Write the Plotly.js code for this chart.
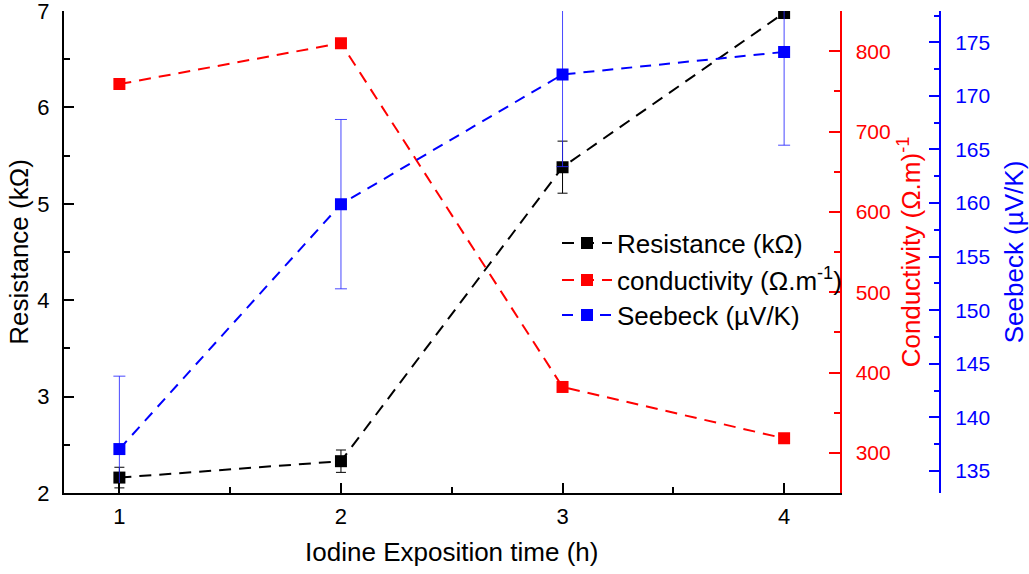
<!DOCTYPE html>
<html>
<head>
<meta charset="utf-8">
<script src="https://cdn.plot.ly/plotly-3.0.1.min.js"></script>
<style>html,body{margin:0;padding:0;background:#fff;}#chart{width:1029px;height:574px;}</style>
</head>
<body>
<div id="chart"></div>
<script>
// Data
const exposureHours = [1, 2, 3, 4];
const resistance = [2.16, 2.33, 5.38, 6.98];           // kΩ
const resistanceErr = [0.107, 0.116, 0.27, 0.05];
const conductivity = [759, 810, 382, 318];              // (Ω.m)^-1
const seebeck = [137.05, 159.9, 172.0, 174.1];          // µV/K
const seebeckErr = [6.8, 7.9, 8.6, 8.7];

const FONT = 'Arial, "Liberation Sans", sans-serif';

const traces = [
  {
    x: exposureHours, y: resistance, name: 'Resistance (kΩ)',
    type: 'scatter', mode: 'lines+markers', xaxis: 'x', yaxis: 'y', legend: 'legend',
    line: {color: '#000000', width: 2, dash: '12px,8px'},
    marker: {symbol: 'square', size: 12, color: '#000000'},
    error_y: {type: 'data', array: resistanceErr, visible: true, color: '#000000', thickness: 1, width: 5}
  },
  {
    x: exposureHours, y: conductivity, name: 'conductivity (Ω.m<sup>-1</sup>)',
    type: 'scatter', mode: 'lines+markers', xaxis: 'x', yaxis: 'y2', legend: 'legend2',
    line: {color: '#ff0000', width: 2, dash: '12px,8px'},
    marker: {symbol: 'square', size: 12, color: '#ff0000'}
  },
  {
    x: exposureHours, y: seebeck, name: 'Seebeck (µV/K)',
    type: 'scatter', mode: 'lines+markers', xaxis: 'x', yaxis: 'y3', legend: 'legend3',
    line: {color: '#0000ff', width: 2, dash: '11px,8px'},
    marker: {symbol: 'square', size: 12, color: '#0000ff'},
    error_y: {type: 'data', array: seebeckErr, visible: true, color: 'rgba(40,40,255,0.85)', thickness: 1, width: 6}
  }
];

const PW = 1029 - 64 - 60;
const xEnd = (839.5 - 64) / PW;
const blueX = (940 - 64) / PW;
function py(pix) { return 1 - (pix - 11) / 482; }
function legendAt(yc) {
  return {x: (557 - 64) / PW, y: py(yc), xanchor: 'left', yanchor: 'middle',
          bgcolor: 'rgba(0,0,0,0)', borderwidth: 0, itemwidth: 50,
          font: {family: FONT, size: 26, color: '#000'}};
}

const layout = {
  width: 1029, height: 574,
  margin: {l: 64, r: 60, t: 11, b: 81},
  paper_bgcolor: '#ffffff', plot_bgcolor: '#ffffff',
  font: {family: FONT, size: 21, color: '#000'},
  showlegend: true,
  legend: legendAt(243),
  legend2: legendAt(280),
  legend3: legendAt(315),
  xaxis: {
    domain: [0, xEnd], range: [0.75, 4.25], tick0: 0, dtick: 1,
    showline: true, linecolor: '#000', linewidth: 2, mirror: false,
    ticks: 'inside', ticklen: 10, tickwidth: 2, tickcolor: '#000',
    minor: {dtick: 0.5, ticks: 'inside', ticklen: 6, tickwidth: 2, tickcolor: '#000'},
    showgrid: false, zeroline: false, ticklabelstandoff: 3, ticklabeloverflow: 'allow',
    tickfont: {family: FONT, size: 22, color: '#000'},
    title: {text: 'Iodine Exposition time (h)', font: {family: FONT, size: 26, color: '#000'}, standoff: 14},
    automargin: false
  },
  xaxis2: {
    overlaying: 'x', side: 'top', anchor: 'y', range: [0, 5], tick0: 0, dtick: 1,
    showline: true, linecolor: '#000', linewidth: 2,
    ticks: 'inside', ticklen: 10, tickwidth: 2, tickcolor: '#000',
    minor: {dtick: 0.5, ticks: 'inside', ticklen: 6, tickwidth: 2, tickcolor: '#000'},
    showticklabels: false, showgrid: false, zeroline: false, automargin: false
  },
  yaxis: {
    range: [2, 7], tick0: 0, dtick: 1,
    showline: true, linecolor: '#000', linewidth: 2, mirror: false,
    ticks: 'inside', ticklen: 10, tickwidth: 2, tickcolor: '#000',
    minor: {dtick: 0.5, ticks: 'inside', ticklen: 6, tickwidth: 2, tickcolor: '#000'},
    showgrid: false, zeroline: false, ticklabelstandoff: 8, ticklabeloverflow: 'allow',
    tickfont: {family: FONT, size: 22, color: '#000'},
    title: {text: 'Resistance (kΩ)', font: {family: FONT, size: 26, color: '#000'}, standoff: 1},
    automargin: false
  },
  yaxis2: {
    overlaying: 'y', side: 'right', anchor: 'x', range: [250, 850], tick0: 0, dtick: 100,
    showline: true, linecolor: '#ff0000', linewidth: 2,
    ticks: 'inside', ticklen: 11, tickwidth: 2, tickcolor: '#ff0000',
    minor: {dtick: 50, ticks: 'inside', ticklen: 6, tickwidth: 2, tickcolor: '#ff0000'},
    showgrid: false, zeroline: false, ticklabelstandoff: 10, ticklabeloverflow: 'allow',
    tickfont: {family: FONT, size: 21, color: '#ff0000'},
    title: {text: 'Conductivity (Ω.m)<sup>-1</sup>', font: {family: FONT, size: 26, color: '#ff0000'}, standoff: 12},
    automargin: false
  },
  yaxis3: {
    overlaying: 'y', side: 'right', anchor: 'free', position: blueX, range: [132.95, 177.92], tick0: 0, dtick: 5,
    showline: true, linecolor: '#0000ff', linewidth: 2,
    ticks: 'inside', ticklen: 10, tickwidth: 2, tickcolor: '#0000ff',
    minor: {dtick: 2.5, ticks: 'inside', ticklen: 5, tickwidth: 2, tickcolor: '#0000ff'},
    showgrid: false, zeroline: false, ticklabelstandoff: 10, ticklabeloverflow: 'allow',
    tickfont: {family: FONT, size: 21, color: '#0000ff'},
    title: {text: 'Seebeck (µV/K)', font: {family: FONT, size: 26, color: '#0000ff'}, standoff: 16},
    automargin: false
  }
};

Plotly.newPlot('chart', traces, layout, {displayModeBar: false, staticPlot: true});
</script>
</body>
</html>
